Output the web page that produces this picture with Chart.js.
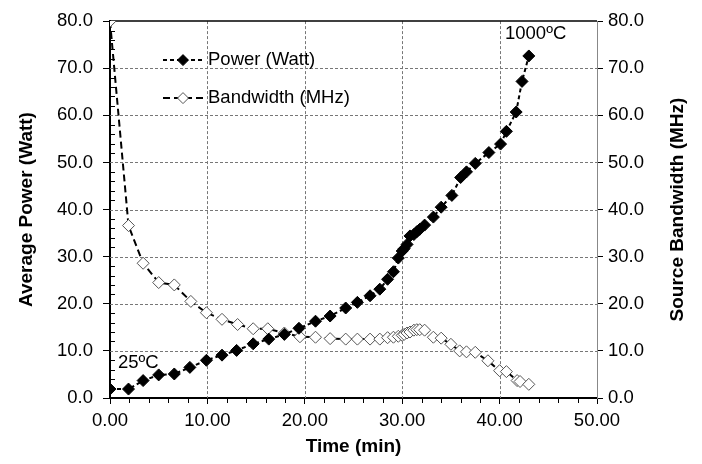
<!DOCTYPE html>
<html>
<head>
<meta charset="utf-8">
<script src="https://cdn.jsdelivr.net/npm/chart.js@4.4.1/dist/chart.umd.min.js"></script>
<style>
  html, body { margin: 0; padding: 0; background: #fff; }
  canvas { display: block; }
</style>
</head>
<body>
<canvas id="chart" width="702" height="464"></canvas>
<script>
// === Data ===
const powerTime = [0, 1.9, 3.4, 5.0, 6.6, 8.2, 9.9, 11.5, 13.0, 14.7, 16.3, 17.9, 19.4, 21.1, 22.6, 24.2, 25.4, 26.7, 27.7, 28.5,
  29.1, 29.6, 30.0, 30.2, 30.5, 30.8, 31.2, 31.5, 31.8, 32.3, 33.2, 34.0, 35.1, 36.0, 36.6, 37.5, 38.9, 40.1, 40.7, 41.7, 42.3, 43.0];
const power = [1.9, 1.9, 3.7, 4.9, 5.1, 6.5, 8.0, 9.1, 10.1, 11.5, 12.5, 13.5, 14.8, 16.3, 17.4, 19.1, 20.3, 21.7, 23.1, 25.2,
  26.8, 29.7, 31.2, 31.7, 32.6, 34.4, 34.7, 35.3, 35.8, 36.7, 38.4, 40.5, 43.0, 46.8, 48.0, 49.8, 52.1, 53.9, 56.6, 60.7, 67.2, 72.6];

const bwTime = [0, 1.9, 3.4, 5.0, 6.6, 8.3, 9.9, 11.5, 13.1, 14.7, 16.2, 17.9, 19.5, 21.1, 22.6, 24.2, 25.4, 26.7, 27.7, 28.5,
  29.1, 29.6, 30.0, 30.2, 30.5, 30.8, 31.2, 31.5, 31.8, 32.3, 33.2, 34.0, 35.0, 35.9, 36.6, 37.5, 38.8, 40.0, 40.7, 41.8, 42.1, 43.0];
const bandwidth = [80.0, 36.6, 28.6, 24.5, 24.0, 20.5, 18.1, 16.7, 15.6, 14.7, 14.7, 13.8, 13.0, 12.9, 12.6, 12.5, 12.5, 12.5, 12.5, 12.8,
  12.9, 13.1, 13.3, 13.5, 13.8, 14.0, 14.4, 14.5, 14.5, 14.4, 12.9, 12.7, 11.4, 10.0, 9.8, 9.7, 7.9, 5.8, 5.6, 3.7, 3.5, 2.9];

const seriesLabels = ["Power (Watt)", "Bandwidth (MHz)"];
const xTitle = "Time (min)";
const yLeftTitle = "Average Power (Watt)";
const yRightTitle = "Source Bandwidth (MHz)";
const xGrid = [10, 20, 30, 40];
const yGrid = [10, 20, 30, 40, 50, 60, 70];
const notes = [
  { text: "1000ºC", x: 43.7, y: 77.2 },
  { text: "25ºC", x: 2.9, y: 7.4 },
];

const FONT = "'Liberation Sans', Arial, sans-serif";
const tickFont = { family: FONT, size: 18.5 };
const titleFont = { family: FONT, size: 19, weight: "bold" };

const toPoints = (xs, ys) => xs.map((x, i) => ({ x, y: ys[i] }));

// === Grid, frame, minor ticks, legend, notes ===
const framePlugin = {
  id: "frame",
  beforeDatasetsDraw(chart) {
    const { ctx, chartArea: a } = chart;
    const sx = chart.scales.x, sy = chart.scales.y;
    ctx.save();

    // dotted grid
    ctx.strokeStyle = "#777";
    ctx.lineWidth = 1;
    ctx.setLineDash([3, 2]);
    ctx.beginPath();
    xGrid.forEach((v) => {
      const px = Math.round(sx.getPixelForValue(v)) + 0.5;
      ctx.moveTo(px, a.top);
      ctx.lineTo(px, a.bottom);
    });
    yGrid.forEach((v) => {
      const py = Math.round(sy.getPixelForValue(v)) + 0.5;
      ctx.moveTo(a.left, py);
      ctx.lineTo(a.right, py);
    });
    ctx.stroke();
    ctx.setLineDash([]);

    // top edge
    ctx.strokeStyle = "#000";
    ctx.lineWidth = 1.5;
    ctx.beginPath();
    ctx.moveTo(a.left, a.top);
    ctx.lineTo(a.right, a.top);
    ctx.stroke();

    // minor ticks
    ctx.lineWidth = 1;
    ctx.beginPath();
    for (let v = 2; v < 50; v += 2) {
      if (v % 10 === 0) continue;
      const px = Math.round(sx.getPixelForValue(v)) + 0.5;
      ctx.moveTo(px, a.bottom);
      ctx.lineTo(px, a.bottom + 5);
    }
    for (let v = 2; v < 80; v += 2) {
      if (v % 10 === 0) continue;
      const py = Math.round(sy.getPixelForValue(v)) + 0.5;
      ctx.moveTo(a.left, py);
      ctx.lineTo(a.left + 5, py);
    }
    ctx.stroke();
    ctx.restore();
  },
  afterDraw(chart) {
    const { ctx, chartArea: a } = chart;
    ctx.save();
    ctx.font = `18.5px ${FONT}`;
    ctx.fillStyle = "#000";
    ctx.textBaseline = "middle";

    // legend
    chart.data.datasets.forEach((ds, i) => {
      const y = a.top + 39 + i * 38;
      const x0 = a.left + 53, x1 = a.left + 93;
      ctx.strokeStyle = ds.borderColor;
      ctx.lineWidth = ds.borderWidth;
      ctx.setLineDash(ds.borderDash);
      ctx.beginPath();
      ctx.moveTo(x0, y);
      ctx.lineTo(x1, y);
      ctx.stroke();
      ctx.setLineDash([]);
      const cx = (x0 + x1) / 2, r = ds.pointRadius - 0.5;
      ctx.beginPath();
      ctx.moveTo(cx, y - r);
      ctx.lineTo(cx + r, y);
      ctx.lineTo(cx, y + r);
      ctx.lineTo(cx - r, y);
      ctx.closePath();
      ctx.fillStyle = ds.pointBackgroundColor;
      ctx.fill();
      ctx.strokeStyle = ds.pointBorderColor;
      ctx.lineWidth = 1;
      ctx.stroke();
      ctx.fillStyle = "#000";
      ctx.textAlign = "left";
      ctx.fillText(ds.label, x1 + 5, y);
    });

    // notes
    ctx.textAlign = "center";
    notes.forEach((n) => {
      ctx.fillText(n.text, chart.scales.x.getPixelForValue(n.x), chart.scales.y.getPixelForValue(n.y));
    });

    // right axis title, bottom to top like the left one
    ctx.font = `bold 19px ${FONT}`;
    ctx.translate(678, (a.top + a.bottom) / 2);
    ctx.rotate(-Math.PI / 2);
    ctx.fillText(yRightTitle, 0, 0);
    ctx.restore();
  },
};

new Chart(document.getElementById("chart"), {
  type: "line",
  data: {
    datasets: [
      {
        label: seriesLabels[0],
        data: toPoints(powerTime, power),
        yAxisID: "y",
        borderColor: "#000",
        borderWidth: 2,
        borderDash: [4, 3],
        pointStyle: "rectRot",
        pointRadius: 6,
        pointBackgroundColor: "#000",
        pointBorderColor: "#000",
        pointBorderWidth: 1,
        tension: 0,
      },
      {
        label: seriesLabels[1],
        data: toPoints(bwTime, bandwidth),
        yAxisID: "y2",
        borderColor: "#000",
        borderWidth: 2,
        borderDash: [7, 4],
        pointStyle: "rectRot",
        pointRadius: 6,
        pointBackgroundColor: "#fff",
        pointBorderColor: "#555",
        pointBorderWidth: 1,
        tension: 0,
      },
    ],
  },
  options: {
    responsive: false,
    animation: false,
    devicePixelRatio: 1,
    layout: { padding: { top: 18, left: 0, right: 0, bottom: 0 } },
    plugins: { legend: { display: false }, tooltip: { enabled: false } },
    scales: {
      x: {
        type: "linear",
        min: 0,
        max: 50,
        afterFit: (s) => { s.height = 66; },
        ticks: { stepSize: 10, font: tickFont, color: "#000", padding: 6, maxRotation: 0,
          callback: (v) => v.toFixed(2) },
        grid: { drawOnChartArea: false, tickColor: "#000", tickLength: 6 },
        border: { color: "#000", width: 2 },
        title: { display: true, text: xTitle, font: titleFont, color: "#000", padding: { top: 0, bottom: 6 } },
      },
      y: {
        position: "left",
        min: 0,
        max: 80,
        afterFit: (s) => { s.width = 110; },
        ticks: { stepSize: 10, font: tickFont, color: "#000", padding: 10,
          callback: (v) => v.toFixed(1) },
        grid: { drawOnChartArea: false, tickColor: "#000", tickLength: 7 },
        border: { color: "#000", width: 2 },
        title: { display: true, text: yLeftTitle, font: titleFont, color: "#000", padding: { top: 15, bottom: 0 } },
      },
      y2: {
        position: "right",
        min: 0,
        max: 80,
        afterFit: (s) => { s.width = 105; },
        ticks: { stepSize: 10, font: tickFont, color: "#000", padding: 5,
          callback: (v) => v.toFixed(1) },
        grid: { drawOnChartArea: false, tickColor: "#000", tickLength: 6 },
        border: { color: "#888", width: 1 },
        title: { display: false },
      },
    },
  },
  plugins: [framePlugin],
});
</script>
</body>
</html>
